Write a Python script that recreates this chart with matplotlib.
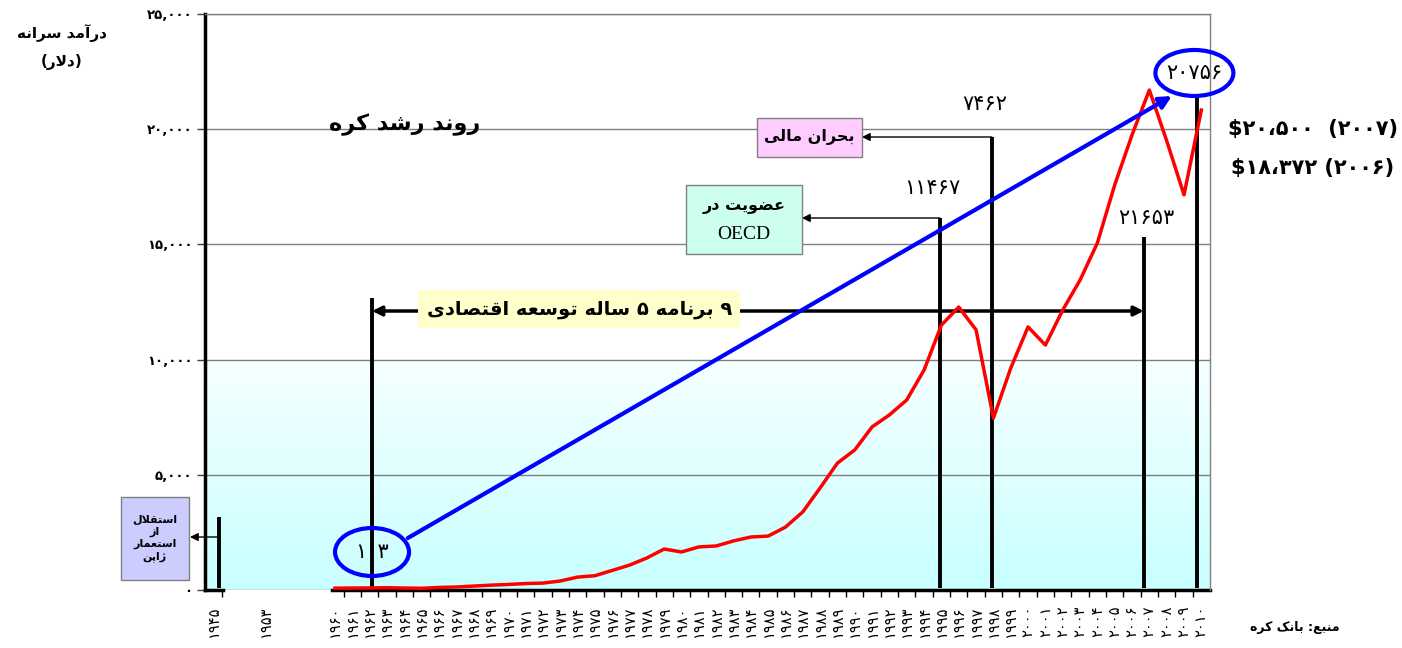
import re
import numpy as np
import matplotlib
matplotlib.use("Agg")
import matplotlib.pyplot as plt
from matplotlib.patches import Ellipse, Rectangle

# --- data -------------------------------------------------------------
year_labels = ['1945', '', '', '1953', '', '', ''] + [str(y) for y in range(1960, 2011)]
income_years = list(range(1960, 2011))
income = [80, 85, 90, 100, 85, 75, 110, 130, 170, 210,
          240, 280, 300, 390, 560, 620, 850, 1080, 1390, 1780,
          1650, 1870, 1910, 2130, 2300, 2340, 2730, 3390, 4430, 5510,
          6080, 7080, 7600, 8250, 9550, 11500, 12280, 11290, 7460, 9630,
          11420, 10630, 12150, 13450, 15060, 17580, 19750, 21700, 19500, 17150,
          20830]
y_ticks = [0, 5000, 10000, 15000, 20000, 25000]

# --- persian text helpers (matplotlib has no arabic shaping) -----------
FORMS = {
    'ا': ('\uFE8D', '\uFE8E', None, None),
    'آ': ('\uFE81', '\uFE82', None, None),
    'ب': ('\uFE8F', '\uFE90', '\uFE91', '\uFE92'),
    'پ': ('\uFB56', '\uFB57', '\uFB58', '\uFB59'),
    'ت': ('\uFE95', '\uFE96', '\uFE97', '\uFE98'),
    'ح': ('\uFEA1', '\uFEA2', '\uFEA3', '\uFEA4'),
    'د': ('\uFEA9', '\uFEAA', None, None),
    'ر': ('\uFEAD', '\uFEAE', None, None),
    'ز': ('\uFEAF', '\uFEB0', None, None),
    'ژ': ('\uFB8A', '\uFB8B', None, None),
    'س': ('\uFEB1', '\uFEB2', '\uFEB3', '\uFEB4'),
    'ش': ('\uFEB5', '\uFEB6', '\uFEB7', '\uFEB8'),
    'ص': ('\uFEB9', '\uFEBA', '\uFEBB', '\uFEBC'),
    'ض': ('\uFEBD', '\uFEBE', '\uFEBF', '\uFEC0'),
    'ع': ('\uFEC9', '\uFECA', '\uFECB', '\uFECC'),
    'ق': ('\uFED5', '\uFED6', '\uFED7', '\uFED8'),
    'ک': ('\uFB8E', '\uFB8F', '\uFB90', '\uFB91'),
    'ل': ('\uFEDD', '\uFEDE', '\uFEDF', '\uFEE0'),
    'م': ('\uFEE1', '\uFEE2', '\uFEE3', '\uFEE4'),
    'ن': ('\uFEE5', '\uFEE6', '\uFEE7', '\uFEE8'),
    'ه': ('\uFEE9', '\uFEEA', '\uFEEB', '\uFEEC'),
    'و': ('\uFEED', '\uFEEE', None, None),
    'ی': ('\uFBFC', '\uFBFD', '\uFBFE', '\uFBFF'),
}


def fa_digits(s):
    return s.translate(str.maketrans('0123456789', '۰۱۲۳۴۵۶۷۸۹'))


def fa(text):
    toks = []
    i = 0
    while i < len(text):
        if text[i] == 'ل' and i + 1 < len(text) and text[i + 1] == 'ا':
            toks.append('LA')
            i += 2
        else:
            toks.append(text[i])
            i += 1

    def letter(t):
        return t == 'LA' or t in FORMS

    def joins_next(t):
        return t in FORMS and FORMS[t][2] is not None

    out = []
    for k, t in enumerate(toks):
        if not letter(t):
            out.append(t)
            continue
        prev = k > 0 and joins_next(toks[k - 1])
        nxt = joins_next(t) and k + 1 < len(toks) and letter(toks[k + 1])
        if t == 'LA':
            out.append('\uFEFC' if prev else '\uFEFB')
            continue
        iso, fin, ini, med = FORMS[t]
        if prev and nxt:
            out.append(med)
        elif prev:
            out.append(fin)
        elif nxt:
            out.append(ini)
        else:
            out.append(iso)
    s = ''.join(out)[::-1]
    return re.sub('[۰-۹0-9]+', lambda m: m.group(0)[::-1], s)


plt.rcParams['font.family'] = ['DejaVu Sans']

fig = plt.figure(figsize=(14.02, 6.48), dpi=100)
ax = fig.add_axes([205 / 1402, 1 - 590 / 648, 1005 / 1402, 576 / 648])

n = len(year_labels)
ax.set_xlim(-0.5, n - 0.5)
ax.set_ylim(0, 25000)

# light cyan gradient under 10,000
grad = np.linspace(0, 1, 100).reshape(-1, 1)
cmap = matplotlib.colors.LinearSegmentedColormap.from_list('bg', ['#c8ffff', '#f6ffff'])
ax.imshow(grad, cmap=cmap, extent=(-0.5, n - 0.5, 0, 10000), aspect='auto',
          origin='lower', zorder=0)

ax.set_axisbelow(True)
ax.yaxis.grid(True, color='#808080', lw=1)
ax.set_yticks(y_ticks)
ax.set_yticklabels([fa_digits(f'{v:,}') for v in y_ticks], fontsize=9.5, fontweight='bold')
ax.tick_params(axis='y', length=6, width=1, color='#404040', pad=3)

ax.set_xticks(range(n))
ax.set_xticklabels([fa_digits(s) for s in year_labels], rotation=90, fontsize=10.5)
ax.tick_params(axis='x', which='major', length=0, pad=11)
ax.set_xticks([0.5] + [k + 0.5 for k in range(7, n - 1)], minor=True)
ax.tick_params(axis='x', which='minor', length=5, width=1, color='black', direction='out')

for side in ['top', 'right']:
    ax.spines[side].set_color('#808080')
    ax.spines[side].set_linewidth(1)
ax.spines['left'].set_linewidth(2.5)
ax.spines['bottom'].set_visible(False)
ax.axhline(0, xmin=0, xmax=18 / 1005, color='black', lw=2.5, clip_on=False)
ax.axhline(0, xmin=127 / 1005, xmax=1, color='black', lw=2.5, clip_on=False)

# income line
xs = [year_labels.index(str(y)) for y in income_years]
ax.plot(xs, income, color='red', lw=2.5, zorder=4)

# vertical marker lines
for x, top in [(9.14, 12674), (41.91, 16146), (44.91, 19661), (53.68, 15321), (56.74, 21398)]:
    ax.plot([x, x], [90, top], color='black', lw=2.8, zorder=3, solid_capstyle='butt')
ax.plot([0.31, 0.31], [90, 3168], color='black', lw=2.8, zorder=3, solid_capstyle='butt')

arrow = dict(arrowstyle='-|>', color='black', lw=1, mutation_scale=12, shrinkA=0, shrinkB=0)
ax.annotate('', xy=(37.41, 19661), xytext=(44.91, 19661), arrowprops=arrow)
ax.annotate('', xy=(33.95, 16146), xytext=(41.91, 16146), arrowprops=arrow)
ax.annotate('', xy=(-1.37, 2300), xytext=(0.31, 2300), arrowprops=arrow, annotation_clip=False)

# boxes
ax.add_patch(Rectangle((31.35, 18793), 6.06, 1693, fc='#ffccff', ec='#808080', lw=1, zorder=5))
ax.text(34.38, 19640, fa('بحران مالی'), ha='center', va='center', fontsize=11.5,
        fontweight='bold', zorder=6)
ax.add_patch(Rectangle((27.26, 14583), 6.69, 2995, fc='#ccfff0', ec='#808080', lw=1, zorder=5))
ax.text(30.6, 16650, fa('عضویت در'), ha='center', va='center', fontsize=11.5,
        fontweight='bold', zorder=6)
ax.text(30.6, 15430, 'OECD', ha='center', va='center', fontsize=14,
        family='Liberation Serif', zorder=6)
ax.add_patch(Rectangle((-5.35, 434), 3.93, 3602, fc='#ccccff', ec='#808080', lw=1,
                       zorder=5, clip_on=False))
ax.text(-3.39, 2235, '\n'.join(fa(w) for w in ['استقلال', 'از', 'استعمار', 'ژاپن']),
        ha='center', va='center', fontsize=8, fontweight='bold', linespacing=1.25,
        zorder=6, clip_on=False)

# five year plans
ax.annotate('', xy=(9.14, 12109), xytext=(53.68, 12109),
            arrowprops=dict(arrowstyle='<|-|>', color='black', lw=2.5, mutation_scale=14,
                            shrinkA=0, shrinkB=0))
ax.add_patch(Rectangle((11.79, 11372), 18.58, 1649, fc='#ffffcc', ec='none', zorder=5))
ax.text(21.1, 12196, fa('۹ برنامه ۵ ساله توسعه اقتصادی'), ha='center', va='center',
        fontsize=14, fontweight='bold', zorder=6)

# trend arrow and circles
ax.annotate('', xy=(55.3, 21441), xytext=(11.21, 2257),
            arrowprops=dict(arrowstyle='-|>', color='#0000ff', lw=3, mutation_scale=18,
                            shrinkA=0, shrinkB=0), zorder=6)
ax.add_patch(Ellipse((9.14, 1649), 4.27, 2083, fill=False, ec='#0000ff', lw=3, zorder=6))
ax.add_patch(Ellipse((56.6, 22440), 4.5, 1997, fill=False, ec='#0000ff', lw=3, zorder=6,
                     clip_on=False))

for x, y, s in [(9.14, 1649, '103'), (56.6, 22440, '20756'), (44.5, 21094, '7462'),
                (41.45, 17448, '11467'), (53.8, 16146, '21653')]:
    ax.text(x, y, fa_digits(s), ha='center', va='center', fontsize=15, zorder=7)

ax.text(11.04, 20182, fa('روند رشد کره'), ha='center', va='center', fontsize=16,
        fontweight='bold')

fig.text(0.0442, 0.949, fa('درآمد سرانه'), ha='center', va='center', fontsize=11,
         fontweight='bold')
fig.text(0.0442, 0.904, '(' + fa('دلار') + ')', ha='center', va='center', fontsize=11,
         fontweight='bold')
fig.text(0.9365, 0.801, '$۲۰،۵۰۰  (۲۰۰۷)', ha='center', va='center', fontsize=15,
         fontweight='bold')
fig.text(0.9365, 0.741, '$۱۸،۳۷۲ (۲۰۰۶)', ha='center', va='center', fontsize=15,
         fontweight='bold')
fig.text(0.9237, 0.0324, fa('منبع: بانک کره'), ha='center', va='center', fontsize=9,
         fontweight='bold')

fig.savefig('out.png', dpi=100)
